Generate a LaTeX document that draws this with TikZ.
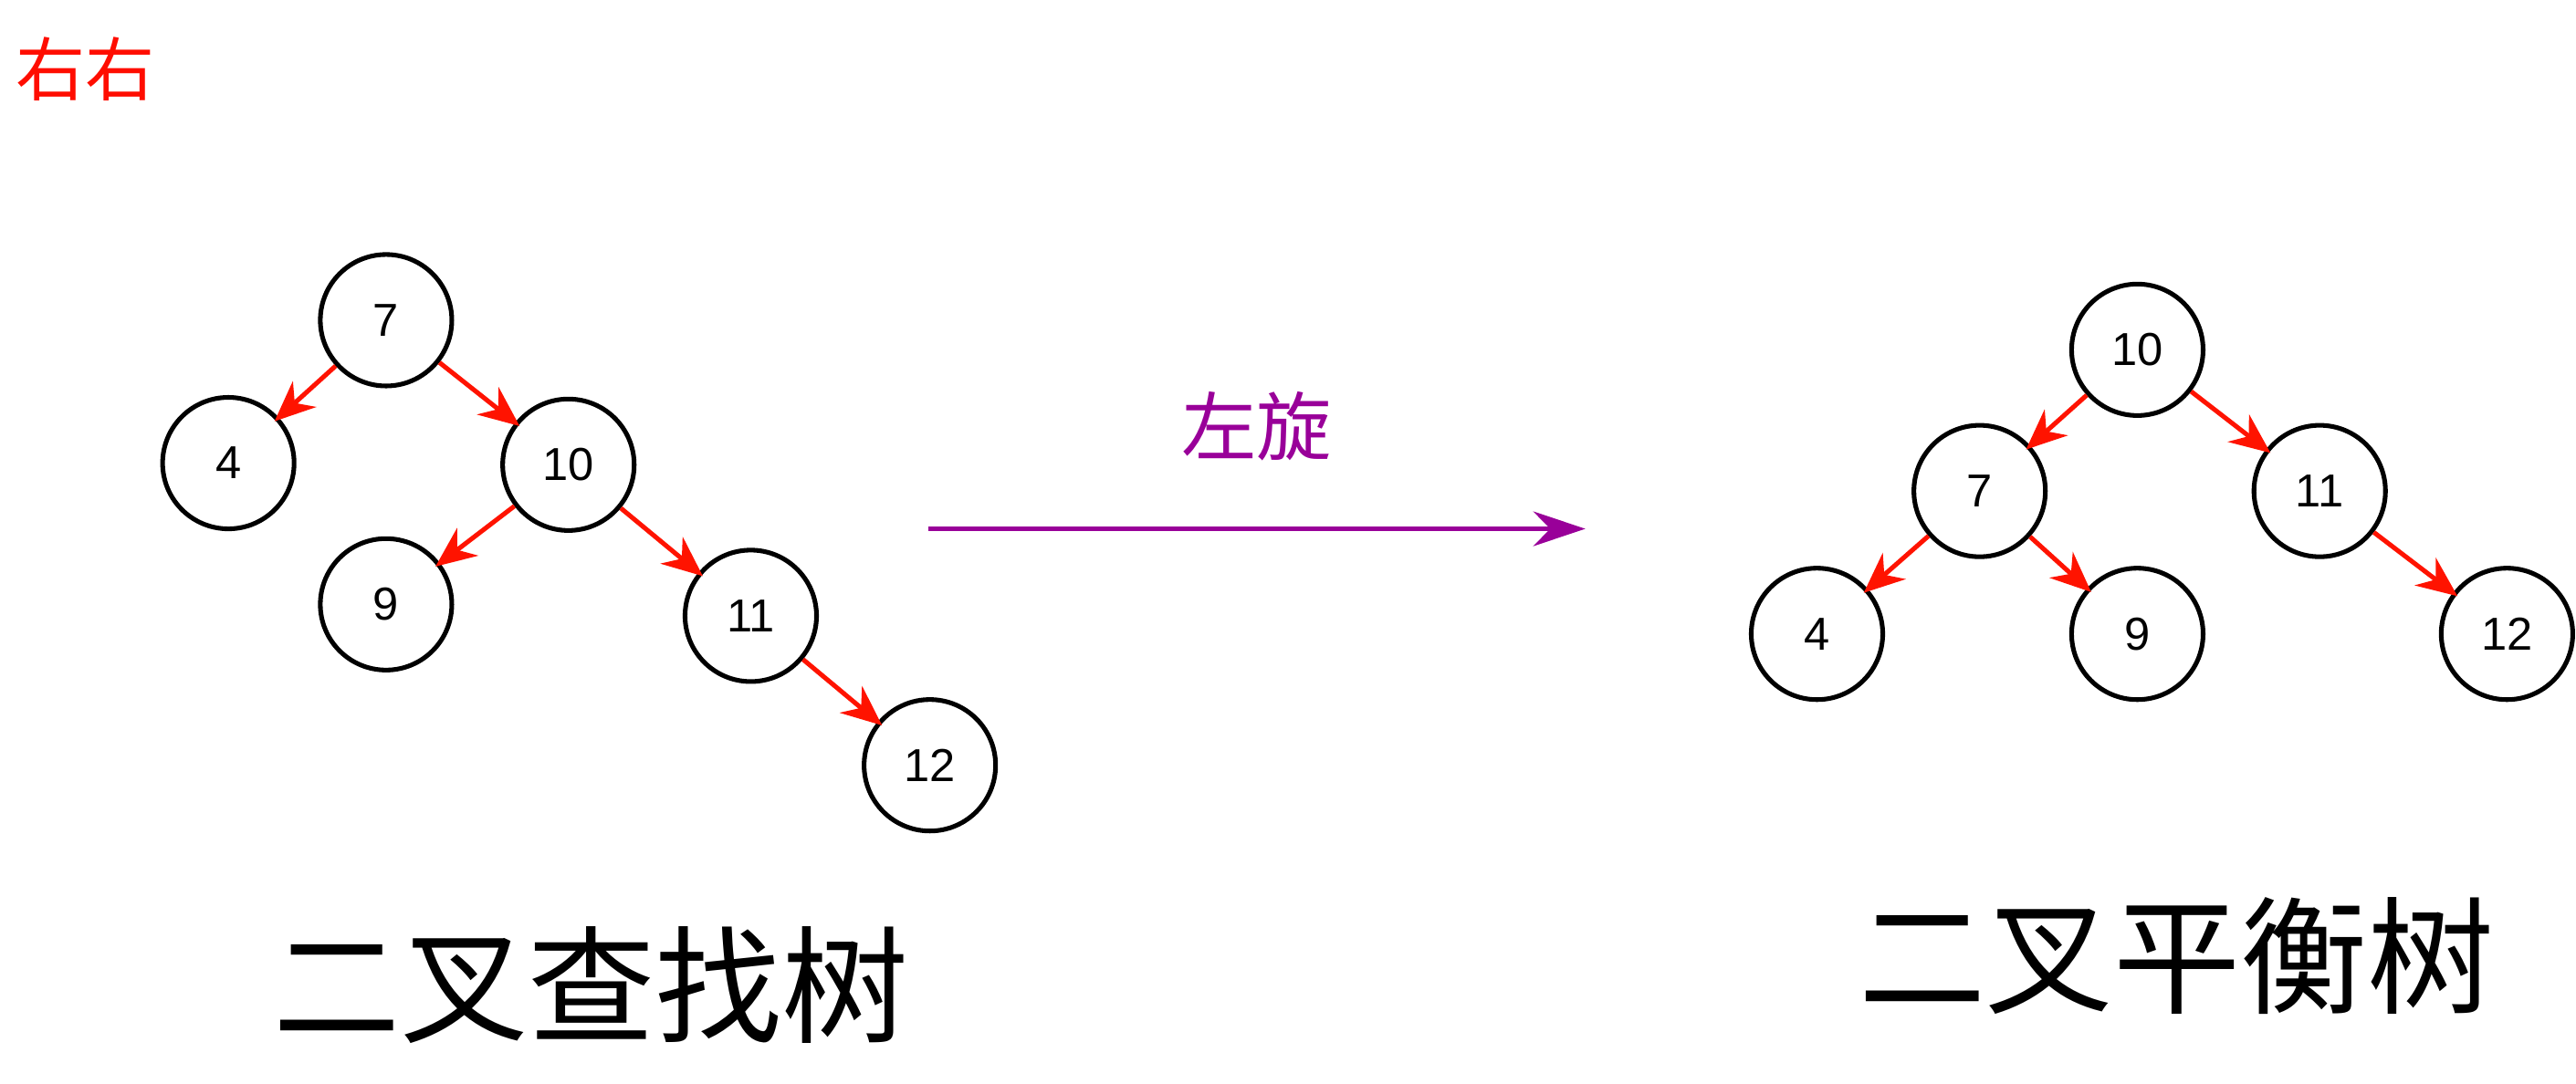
\documentclass[tikz,border=0pt]{standalone}
\usepackage{fontspec}
\setmainfont{Liberation Sans}
\newfontfamily\cjk{Noto Sans CJK SC}
\usetikzlibrary{arrows.meta}

\tikzset{
  treenode/.style={circle, draw, thick, minimum size=0.8cm, inner sep=0pt, font=\fontsize{8}{10}\selectfont},
  edge/.style={draw=red!85!orange, thick, -{Stealth[length=7pt,width=6pt]}, shorten >=-1pt}
}

\begin{document}
\begin{tikzpicture}[x=0.01cm, y=-0.01cm]
      \useasboundingbox (0,0) rectangle (1568,660);
      \node[text=red!90!orange, font=\cjk\fontsize{12}{14}\selectfont] (tag) at (52,42) {右右};
      % left tree
      \node[treenode] (l7) at (235,195) {7};
      \node[treenode] (l4) at (139,282) {4};
      \node[treenode] (l10) at (346,283) {10};
      \node[treenode] (l9) at (235,368) {9};
      \node[treenode] (l11) at (457,375) {11};
      \node[treenode] (l12) at (566,466) {12};
      \draw[edge] (l7) -- (l4);
      \draw[edge] (l7) -- (l10);
      \draw[edge] (l10) -- (l9);
      \draw[edge] (l10) -- (l11);
      \draw[edge] (l11) -- (l12);
      % rotation arrow
      \coordinate (a0) at (565,322);
      \coordinate (a1) at (965,322);
      \draw[thick, violet!80!magenta, -{Stealth[length=9pt,width=6pt]}] (a0) -- (a1) node[midway, above=8pt, font=\cjk\fontsize{13}{15}\selectfont] (rot) {左旋};
      % right tree
      \node[treenode] (r10) at (1301,213) {10};
      \node[treenode] (r7) at (1205,299) {7};
      \node[treenode] (r11) at (1412,299) {11};
      \node[treenode] (r4) at (1106,386) {4};
      \node[treenode] (r9) at (1301,386) {9};
      \node[treenode] (r12) at (1526,386) {12};
      \draw[edge] (r10) -- (r7);
      \draw[edge] (r10) -- (r11);
      \draw[edge] (r7) -- (r4);
      \draw[edge] (r7) -- (r9);
      \draw[edge] (r11) -- (r12);
      % titles
      \node[font=\cjk\fontsize{22}{26}\selectfont] (bst) at (360,600) {二叉查找树};
      \node[font=\cjk\fontsize{22}{26}\selectfont] (avl) at (1325,582) {二叉平衡树};
\end{tikzpicture}
\end{document}
